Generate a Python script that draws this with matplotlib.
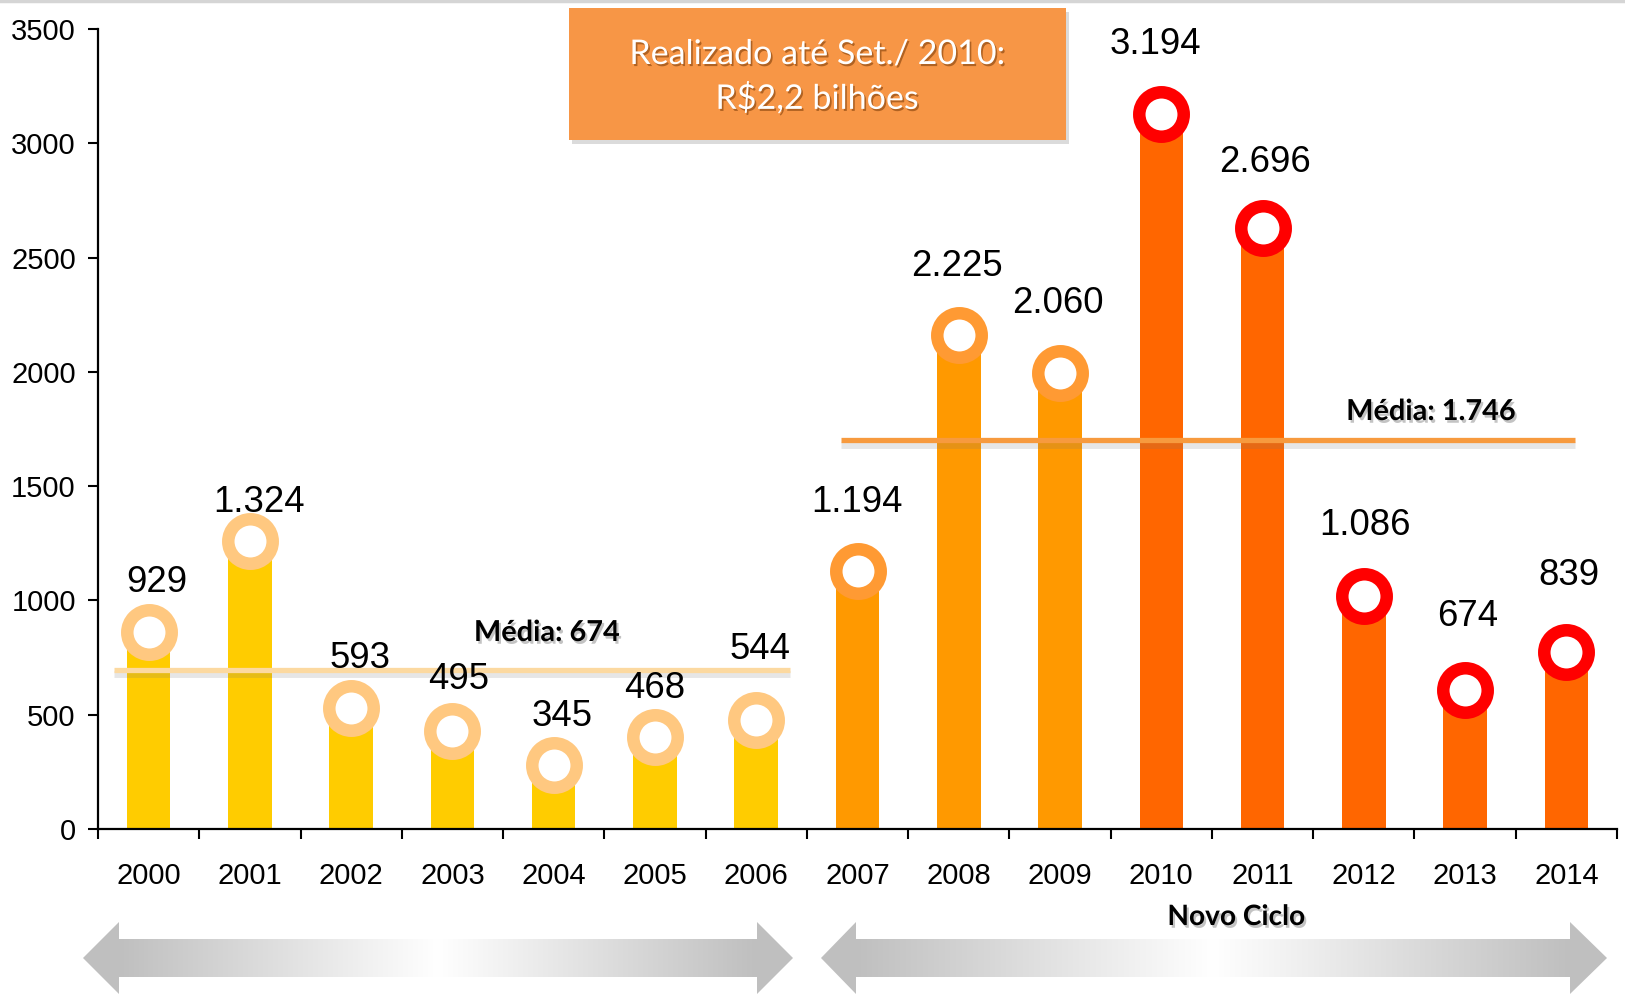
import numpy as np
import matplotlib
matplotlib.use("Agg")
import matplotlib.pyplot as plt
import matplotlib.patheffects as pe
import matplotlib.transforms as mtransforms
from matplotlib.patches import Rectangle, Polygon

# ---------------- dados ----------------
anos = ['2000', '2001', '2002', '2003', '2004', '2005', '2006', '2007',
        '2008', '2009', '2010', '2011', '2012', '2013', '2014']
valores = [929, 1324, 593, 495, 345, 468, 544, 1194,
           2225, 2060, 3194, 2696, 1086, 674, 839]
rotulos = ['929', '1.324', '593', '495', '345', '468', '544', '1.194',
           '2.225', '2.060', '3.194', '2.696', '1.086', '674', '839']
yticks = [0, 500, 1000, 1500, 2000, 2500, 3000, 3500]

media_textos = ['Média: 674', 'Média: 1.746']
media_nivel = [695, 1700]          # altura da linha como aparece no grafico
caixa_texto = ['Realizado até Set./ 2010:', 'R$2,2 bilhões']
ciclo_texto = 'Novo Ciclo'

# ---------------- estilo ----------------
W, H = 1625, 994
cor_barra = ['#FFCC00'] * 7 + ['#FF9900'] * 3 + ['#FF6600'] * 5
cor_anel = ['#FFC880'] * 7 + ['#FF9A33'] * 3 + ['#FF0000'] * 5
label_dy = [36, 26, 37, 38, 36, 36, 57, 56, 56, 57, 56, 52, 57, 60, 64]
label_dx = [8, 9, 9, 6, 8, 0, 4, 0, -2, -2, -6, 2, 1, 3, 3]

fig = plt.figure(figsize=(W / 100, H / 100), dpi=100)
ax = fig.add_axes([98 / W, 1 - 829 / H, 1519 / W, 800 / H])

x = np.arange(len(anos))
ax.bar(x, valores, width=0.43, color=cor_barra, zorder=2)

# aneis um pouco abaixo do topo da barra
off = mtransforms.offset_copy(ax.transData, fig=fig, x=0, y=-15, units='dots')
for i in range(len(x)):
    ax.plot(x[i], valores[i], marker='o', ms=32, mew=9, mfc='white',
            mec=cor_anel[i], transform=off, zorder=5, clip_on=False)
    ax.annotate(rotulos[i], (x[i], valores[i]), xytext=(label_dx[i], label_dy[i] - 2),
                textcoords='offset pixels', ha='center', va='center',
                fontsize=26.3, family='Liberation Sans', zorder=6)

# linhas de media
sombra = [pe.SimpleLineShadow(offset=(0, -3), shadow_color='#777777', alpha=0.18, linewidth=5), pe.Normal()]
ax.plot([-0.34, 6.33], [media_nivel[0]] * 2, color='#FCD9A0', lw=3.8, zorder=4,
        path_effects=sombra, solid_capstyle='butt')
ax.plot([6.84, 14.09], [media_nivel[1]] * 2, color='#F79A3E', lw=3.8, zorder=4,
        path_effects=sombra, solid_capstyle='butt')

ax.set_xlim(-0.5, 14.5)
ax.set_ylim(0, 3500)
ax.set_yticks(yticks)
ax.set_yticklabels([str(v) for v in yticks], fontsize=21, family='Liberation Sans')
ax.set_xticks(x)
ax.set_xticklabels(anos, fontsize=21, family='Liberation Sans')
ax.set_xticks(np.arange(-0.5, 15, 1), minor=True)
ax.tick_params(axis='x', which='major', length=0, pad=24)
ax.tick_params(axis='x', which='minor', length=7, width=1.5, direction='out')
ax.tick_params(axis='y', length=7, width=1.5, direction='out', pad=9)
for s in ['top', 'right']:
    ax.spines[s].set_visible(False)
for s in ['left', 'bottom']:
    ax.spines[s].set_linewidth(1.6)

# ---------------- camada de anotacoes (pixels) ----------------
ov = fig.add_axes([0, 0, 1, 1])
ov.set_xlim(0, W)
ov.set_ylim(H, 0)
ov.axis('off')
ov.set_zorder(10)

ov.plot([0, W], [1, 1], color='#D5D5D5', lw=2.5)

txt_sombra = [pe.SimplePatchShadow(offset=(1.5, -2), shadow_rgbFace='#555555', alpha=0.35), pe.Normal()]
ov.text(547, 633, media_textos[0], fontsize=20.8, fontweight='bold', family='Lato',
        ha='center', va='center', path_effects=txt_sombra)
ov.text(1431, 412, media_textos[1], fontsize=20.8, fontweight='bold', family='Lato',
        ha='center', va='center', path_effects=txt_sombra)

# caixa laranja
caixa = Rectangle((569, 8), 497, 132, facecolor='#F79646', edgecolor='none',
                  path_effects=[pe.SimplePatchShadow(offset=(2, -3), shadow_rgbFace='#888888', alpha=0.3), pe.Normal()])
ov.add_patch(caixa)
branco_sombra = [pe.SimplePatchShadow(offset=(1.2, -1.5), shadow_rgbFace='#6b3000', alpha=0.5), pe.Normal()]
ov.text(817, 54, caixa_texto[0], fontsize=24.5, color='white', family='Lato',
        ha='center', va='center', path_effects=branco_sombra)
ov.text(817, 98, caixa_texto[1], fontsize=24.5, color='white', family='Lato',
        ha='center', va='center', path_effects=branco_sombra)

ov.text(1236, 917, ciclo_texto, fontsize=20.2, fontweight='bold', family='Lato',
        ha='center', va='center', path_effects=txt_sombra)

# setas com degrade cinza
def seta(x0, b0, b1, x1, yc=958, meia_cabeca=36, meia_haste=19):
    pts = [(x0, yc), (b0, yc - meia_cabeca), (b0, yc - meia_haste), (b1, yc - meia_haste),
           (b1, yc - meia_cabeca), (x1, yc), (b1, yc + meia_cabeca), (b1, yc + meia_haste),
           (b0, yc + meia_haste), (b0, yc + meia_cabeca)]
    poly = Polygon(pts, closed=True, facecolor='none', edgecolor='none')
    ov.add_patch(poly)
    xs = np.linspace(x0, x1, 400)
    meio = (b0 + b1) / 2
    d = np.clip(np.abs(xs - meio) / ((b1 - b0) / 2), 0, 1)
    g = 1 - 0.25 * d
    img = np.dstack([g, g, g])
    im = ov.imshow(img, extent=(x0, x1, yc + meia_cabeca, yc - meia_cabeca),
                   aspect='auto', interpolation='bilinear', zorder=1)
    im.set_clip_path(poly)

seta(83, 119, 757, 793)
seta(821, 856, 1570, 1607)
ov.set_xlim(0, W)
ov.set_ylim(H, 0)

fig.savefig('out.png', dpi=100)
